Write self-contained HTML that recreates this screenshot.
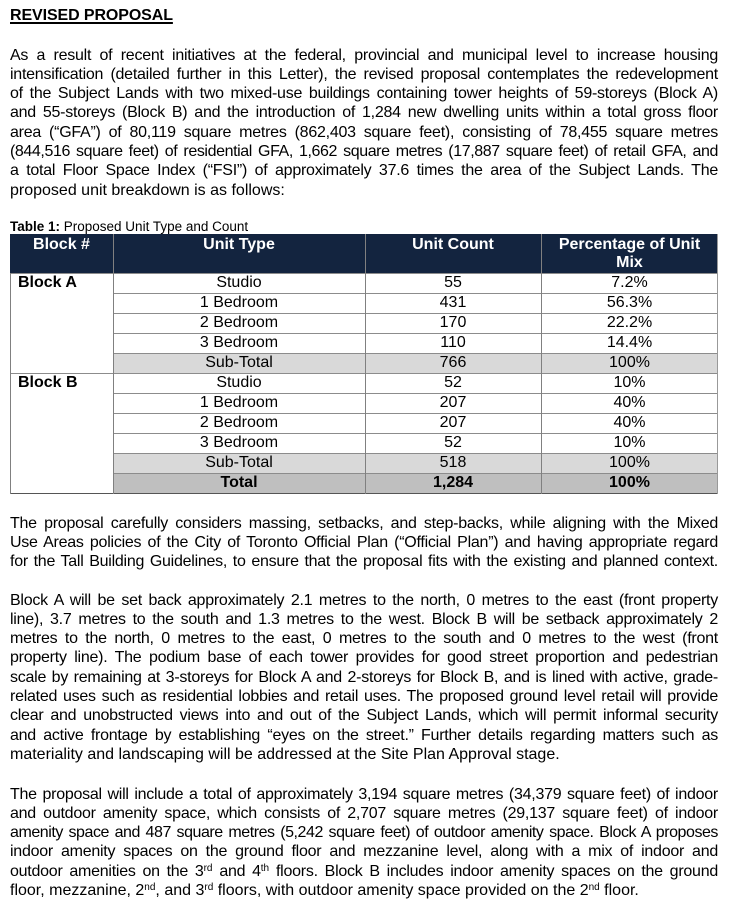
<!DOCTYPE html>
<html>
<head>
<meta charset="utf-8">
<style>
  html, body { margin:0; padding:0; background:#fff; }
  body { width:730px; height:916px; position:relative; overflow:hidden;
         font-family:"Liberation Sans","DejaVu Sans",sans-serif; color:#000; }
  .abs { position:absolute; }
  .para { position:absolute; left:10px; width:708px; font-size:16px; }
  .l { height:19.3px; line-height:19.3px; white-space:nowrap; text-align:justify; text-align-last:justify; letter-spacing:-0.25px; }
  .e { height:19.3px; line-height:19.3px; white-space:nowrap; text-align:left; }
  sup { font-size:10px; line-height:0; vertical-align:5px; letter-spacing:0; }
  .h { position:absolute; left:10px; top:6px; font-size:16px; line-height:19px; font-weight:bold;
       text-decoration:underline; text-decoration-thickness:1.5px; text-underline-offset:2px; letter-spacing:-0.1px; }
  .cap { position:absolute; left:10px; top:219px; font-size:13.5px; line-height:16px; white-space:nowrap; }
  .hdr { position:absolute; top:234px; left:10px; width:708px; height:39px; background:#13243f; }
  .ht { position:absolute; top:236px; color:#fff; font-weight:bold; font-size:16px; line-height:18px; text-align:center; }
  .cell { position:absolute; height:20px; line-height:20px; font-size:16px; text-align:center; white-space:nowrap; }
  .hl { position:absolute; height:1px; background:#8c8c8c; }
  .vl { position:absolute; width:1px; background:#808080; }
</style>
</head>
<body>

<div class="h">REVISED PROPOSAL</div>

<div class="para" style="top:45.5px;">
  <div class="l">As a result of recent initiatives at the federal, provincial and municipal level to increase housing</div>
  <div class="l">intensification (detailed further in this Letter), the revised proposal contemplates the redevelopment</div>
  <div class="l">of the Subject Lands with two mixed-use buildings containing tower heights of 59-storeys (Block A)</div>
  <div class="l">and 55-storeys (Block B) and the introduction of 1,284 new dwelling units within a total gross floor</div>
  <div class="l">area (“GFA”) of 80,119 square metres (862,403 square feet), consisting of 78,455 square metres</div>
  <div class="l" style="letter-spacing:-0.4px;">(844,516 square feet) of residential GFA, 1,662 square metres (17,887 square feet) of retail GFA, and</div>
  <div class="l">a total Floor Space Index (“FSI”) of approximately 37.6 times the area of the Subject Lands. The</div>
  <div class="e">proposed unit breakdown is as follows:</div>
</div>

<div class="cap"><b>Table 1:</b> Proposed Unit Type and Count</div>

<!-- Table -->
<div class="hdr"></div>
<div class="abs" style="left:113px;top:353px;width:605px;height:20px;background:#d9d9d9;"></div>
<div class="abs" style="left:113px;top:453px;width:605px;height:20px;background:#d9d9d9;"></div>
<div class="abs" style="left:113px;top:473px;width:605px;height:20px;background:#bfbfbf;"></div>

<div class="ht" style="left:10px;width:103px;">Block #</div>
<div class="ht" style="left:113px;width:252px;">Unit Type</div>
<div class="ht" style="left:365px;width:176px;">Unit Count</div>
<div class="ht" style="left:541px;width:177px;">Percentage of Unit<br>Mix</div>

<div class="hl" style="left:10px;width:708px;top:273px;"></div>
<div class="hl" style="left:113px;width:605px;top:293px;"></div>
<div class="hl" style="left:113px;width:605px;top:313px;"></div>
<div class="hl" style="left:113px;width:605px;top:333px;"></div>
<div class="hl" style="left:113px;width:605px;top:353px;"></div>
<div class="hl" style="left:10px;width:708px;top:373px;"></div>
<div class="hl" style="left:113px;width:605px;top:393px;"></div>
<div class="hl" style="left:113px;width:605px;top:413px;"></div>
<div class="hl" style="left:113px;width:605px;top:433px;"></div>
<div class="hl" style="left:113px;width:605px;top:453px;"></div>
<div class="hl" style="left:113px;width:605px;top:473px;"></div>
<div class="hl" style="left:10px;width:708px;top:493px;background:#555;"></div>

<div class="vl" style="left:10px;top:273px;height:221px;"></div>
<div class="vl" style="left:113px;top:234px;height:260px;"></div>
<div class="vl" style="left:365px;top:234px;height:260px;"></div>
<div class="vl" style="left:541px;top:234px;height:260px;"></div>
<div class="vl" style="left:717px;top:234px;height:260px;background:#999;"></div>

<div class="cell" style="left:18px;top:273px;font-weight:bold;text-align:left;">Block A</div>
<div class="cell" style="left:18px;top:373px;font-weight:bold;text-align:left;">Block B</div>

<div class="cell" style="left:113px;width:252px;top:273px;">Studio</div>
<div class="cell" style="left:365px;width:176px;top:273px;">55</div>
<div class="cell" style="left:541px;width:177px;top:273px;">7.2%</div>

<div class="cell" style="left:113px;width:252px;top:293px;">1 Bedroom</div>
<div class="cell" style="left:365px;width:176px;top:293px;">431</div>
<div class="cell" style="left:541px;width:177px;top:293px;">56.3%</div>

<div class="cell" style="left:113px;width:252px;top:313px;">2 Bedroom</div>
<div class="cell" style="left:365px;width:176px;top:313px;">170</div>
<div class="cell" style="left:541px;width:177px;top:313px;">22.2%</div>

<div class="cell" style="left:113px;width:252px;top:333px;">3 Bedroom</div>
<div class="cell" style="left:365px;width:176px;top:333px;">110</div>
<div class="cell" style="left:541px;width:177px;top:333px;">14.4%</div>

<div class="cell" style="left:113px;width:252px;top:353px;">Sub-Total</div>
<div class="cell" style="left:365px;width:176px;top:353px;">766</div>
<div class="cell" style="left:541px;width:177px;top:353px;">100%</div>

<div class="cell" style="left:113px;width:252px;top:373px;">Studio</div>
<div class="cell" style="left:365px;width:176px;top:373px;">52</div>
<div class="cell" style="left:541px;width:177px;top:373px;">10%</div>

<div class="cell" style="left:113px;width:252px;top:393px;">1 Bedroom</div>
<div class="cell" style="left:365px;width:176px;top:393px;">207</div>
<div class="cell" style="left:541px;width:177px;top:393px;">40%</div>

<div class="cell" style="left:113px;width:252px;top:413px;">2 Bedroom</div>
<div class="cell" style="left:365px;width:176px;top:413px;">207</div>
<div class="cell" style="left:541px;width:177px;top:413px;">40%</div>

<div class="cell" style="left:113px;width:252px;top:433px;">3 Bedroom</div>
<div class="cell" style="left:365px;width:176px;top:433px;">52</div>
<div class="cell" style="left:541px;width:177px;top:433px;">10%</div>

<div class="cell" style="left:113px;width:252px;top:453px;">Sub-Total</div>
<div class="cell" style="left:365px;width:176px;top:453px;">518</div>
<div class="cell" style="left:541px;width:177px;top:453px;">100%</div>

<div class="cell" style="left:113px;width:252px;top:473px;font-weight:bold;">Total</div>
<div class="cell" style="left:365px;width:176px;top:473px;font-weight:bold;">1,284</div>
<div class="cell" style="left:541px;width:177px;top:473px;font-weight:bold;">100%</div>

<div class="para" style="top:513.5px;">
  <div class="l">The proposal carefully considers massing, setbacks, and step-backs, while aligning with the Mixed</div>
  <div class="l">Use Areas policies of the City of Toronto Official Plan (“Official Plan”) and having appropriate regard</div>
  <div class="l">for the Tall Building Guidelines, to ensure that the proposal fits with the existing and planned context.</div>
</div>

<div class="para" style="top:590.5px;">
  <div class="l">Block A will be set back approximately 2.1 metres to the north, 0 metres to the east (front property</div>
  <div class="l">line), 3.7 metres to the south and 1.3 metres to the west. Block B will be setback approximately 2</div>
  <div class="l">metres to the north, 0 metres to the east, 0 metres to the south and 0 metres to the west (front</div>
  <div class="l">property line). The podium base of each tower provides for good street proportion and pedestrian</div>
  <div class="l">scale by remaining at 3-storeys for Block A and 2-storeys for Block B, and is lined with active, grade-</div>
  <div class="l">related uses such as residential lobbies and retail uses. The proposed ground level retail will provide</div>
  <div class="l">clear and unobstructed views into and out of the Subject Lands, which will permit informal security</div>
  <div class="l">and active frontage by establishing “eyes on the street.” Further details regarding matters such as</div>
  <div class="e">materiality and landscaping will be addressed at the Site Plan Approval stage.</div>
</div>

<div class="para" style="top:784.5px;">
  <div class="l">The proposal will include a total of approximately 3,194 square metres (34,379 square feet) of indoor</div>
  <div class="l">and outdoor amenity space, which consists of 2,707 square metres (29,137 square feet) of indoor</div>
  <div class="l" style="letter-spacing:-0.45px;">amenity space and 487 square metres (5,242 square feet) of outdoor amenity space. Block A proposes</div>
  <div class="l">indoor amenity spaces on the ground floor and mezzanine level, along with a mix of indoor and</div>
  <div class="l">outdoor amenities on the 3<sup>rd</sup> and 4<sup>th</sup> floors. Block B includes indoor amenity spaces on the ground</div>
  <div class="e">floor, mezzanine, 2<sup>nd</sup>, and 3<sup>rd</sup> floors, with outdoor amenity space provided on the 2<sup>nd</sup> floor.</div>
</div>

</body>
</html>
